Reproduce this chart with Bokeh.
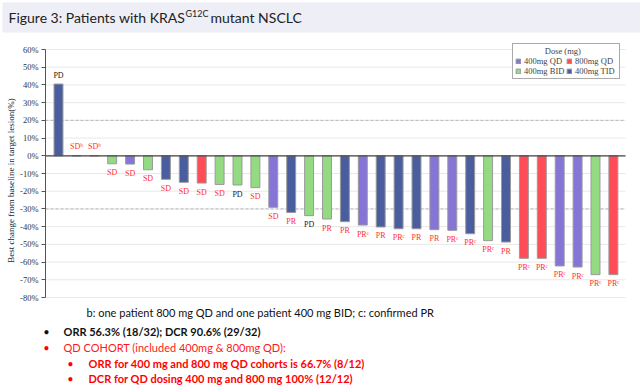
import math
from bokeh.plotting import figure
from bokeh.models import (ColumnDataSource, Label, BoxAnnotation, Legend, LegendItem,
                          FixedTicker, PrintfTickFormatter, Range1d, LinearAxis)
from bokeh.core.properties import value
from bokeh.embed import file_html
from bokeh.resources import INLINE

# ---------------- data ----------------
patients = list(range(1, 33))
change = [40.5, 0, 0, -4.5, -4.7, -7.9, -13.3, -15.0, -15.4, -16.2, -16.5, -18.0,
          -29.1, -32.0, -33.8, -35.7, -37.2, -39.1, -40.2, -41.2, -41.2, -41.7, -42.1,
          -44.0, -47.9, -48.7, -57.9, -57.9, -62.2, -62.8, -67.1, -67.1]
dose = ["400mg TID", "800mg QD", "400mg BID", "400mg BID", "400mg QD", "400mg BID",
        "400mg TID", "400mg TID", "800mg QD", "400mg BID", "400mg BID", "400mg BID",
        "400mg QD", "400mg TID", "400mg BID", "400mg BID", "400mg TID", "400mg QD",
        "400mg TID", "400mg TID", "400mg TID", "400mg QD", "400mg QD", "400mg TID",
        "400mg BID", "400mg TID", "800mg QD", "800mg QD", "400mg QD", "400mg QD",
        "400mg BID", "800mg QD"]
response = ["PD", "SDᵇ", "SDᵇ", "SD", "SD", "SD", "SD", "SD", "SD", "SD", "PD", "SD",
            "SD", "PR", "PD", "PR", "PR", "PRᶜ", "PR", "PRᶜ", "PR", "PR", "PRᶜ", "PRᶜ",
            "PRᶜ", "PR", "PRᶜ", "PRᶜ", "PRᶜ", "PRᶜ", "PRᶜ", "PRᶜ"]
# legend is column-major: column 1 = QD, BID ; column 2 = 800 QD, TID
legend_labels = ["400mg QD", "400mg BID", "800mg QD", "400mg TID"]
yticks = [-80, -70, -60, -50, -40, -30, -20, -10, 0, 10, 20, 30, 40, 50, 60]
ref_lines = [20, -30]

dose_colors = {"400mg QD": "#8674d6", "800mg QD": "#fe4d56",
               "400mg BID": "#93da82", "400mg TID": "#4a5e9f"}

src = ColumnDataSource(dict(
    x=patients, change=change, dose=dose, resp=response,
    color=[dose_colors[d] for d in dose],
    tcolor=["#222222" if r == "PD" else "#ff3030" for r in response],
    yoff=[9 if c < 0 else -9 for c in change],
))

# ---------------- geometry (page px) ----------------
W, H = 640, 390
FL, FR, FT, FB = 45, 625, 49, 297        # chart area edges
Y_TOP, Y_BOT = 60, -80
SY = (FB - FT) / (Y_TOP - Y_BOT)          # px per % point
SX = 17.9                                  # px per patient slot
X_AT_FL = 0.274                            # x value at the axis line


def px2x(px):
    return X_AT_FL + (px - FL) / SX


def py2y(py):
    return Y_TOP - (py - FT) / SY


p = figure(width=W, height=H, output_backend="svg", toolbar_location=None, title=None,
           x_range=Range1d(px2x(0), px2x(W)), y_range=Range1d(py2y(H), py2y(0)),
           x_axis_location=None, y_axis_location=None,
           min_border=0, min_border_left=0, min_border_right=0,
           min_border_top=0, min_border_bottom=0)
p.outline_line_color = None
p.grid.visible = False

xl, xr = px2x(FL), px2x(FR)

# grid lines and reference lines
p.segment(x0=xl, x1=xr, y0=yticks, y1=yticks, line_color="#e8e8e8", line_width=1)
p.segment(x0=xl, x1=xr, y0=ref_lines, y1=ref_lines, line_color="#b8b8b8",
          line_dash="3 2", line_width=1)

# y axis drawn at the chart's left edge
ax = LinearAxis(fixed_location=xl, bounds=(Y_BOT, Y_TOP),
                ticker=FixedTicker(ticks=yticks),
                formatter=PrintfTickFormatter(format="%d%%"))
ax.major_label_text_font = "Liberation Serif"
ax.major_label_text_font_size = "8.5px"
ax.major_label_text_color = "#333333"
ax.axis_line_color = "#555555"
ax.major_tick_line_color = "#555555"
ax.major_tick_out = 4
ax.major_tick_in = 0
ax.minor_tick_out = 0
ax.minor_tick_in = 0
ax.major_label_standoff = 3
p.add_layout(ax, "left")

bars = p.vbar(x="x", top="change", bottom=0, width=0.5, fill_color="color",
              line_color="#9a9a9a", line_width=1, source=src)

p.segment(x0=xl, x1=xr, y0=0, y1=0, line_color="#444444", line_width=1.2)

p.text(x="x", y="change", text="resp", y_offset="yoff", text_color="tcolor",
       text_font=value("Liberation Serif"), text_font_size="8px",
       text_align="center", text_baseline="middle", source=src)

items = [LegendItem(label=l, renderers=[bars], index=dose.index(l)) for l in legend_labels]
legend = Legend(items=items, location=(512, H - 79), ncols=2,
                title="\u00a0" * 14 + "Dose (mg)",
                label_text_font="Liberation Serif", label_text_font_size="8.5px",
                label_height=7, label_width=42, label_standoff=3,
                glyph_width=6, glyph_height=6,
                spacing=0, padding=2, margin=0, border_line_color="#555555",
                title_text_font="Liberation Serif", title_text_font_size="8.5px",
                title_text_font_style="normal", title_standoff=0,
                background_fill_alpha=1)
p.add_layout(legend)


def lab(x, y, text, **kw):
    opts = dict(text_font="Lato", text_font_size="11px", text_color="#111111",
                text_baseline="middle")
    opts.update(kw)
    p.add_layout(Label(x=px2x(x), y=py2y(y), text=text, **opts))


# title band
p.add_layout(BoxAnnotation(left=px2x(2), right=px2x(W), top=py2y(2), bottom=py2y(32),
                           fill_color="#edeef6", fill_alpha=1, line_color=None,
                           level="underlay"))
lab(8, 17, "Figure 3: Patients with KRAS", text_font_size="14px", text_color="#222222")
lab(185, 13, "G12C", text_font_size="9px", text_color="#222222")
lab(210, 17, "mutant NSCLC", text_font_size="14px", text_color="#222222")

# y axis title
lab(10, 180, "Best change from baseline in target lesion(%)", angle=math.pi / 2,
    text_align="center", text_font="Liberation Serif", text_font_size="9px",
    text_color="#222222")

# notes
lab(86, 312, "b: one patient 800 mg QD and one patient 400 mg BID; c: confirmed PR")
lab(46, 331, "•", text_align="center")
lab(63, 331, "ORR 56.3% (18/32); DCR 90.6% (29/32)", text_font_style="bold")
lab(46, 347, "•", text_align="center", text_color="#ff0000")
lab(63, 347, "QD COHORT (included 400mg & 800mg QD):", text_color="#ff1a1a")
lab(70, 363, "•", text_align="center", text_color="#ff0000")
lab(88, 363, "ORR for 400 mg and 800 mg QD cohorts is 66.7% (8/12)",
    text_font_style="bold", text_color="#ff0000")
lab(70, 378, "•", text_align="center", text_color="#ff0000")
lab(88, 378, "DCR for QD dosing 400 mg and 800 mg 100% (12/12)",
    text_font_style="bold", text_color="#ff0000")

open("out.html", "w").write(file_html(p, INLINE))
